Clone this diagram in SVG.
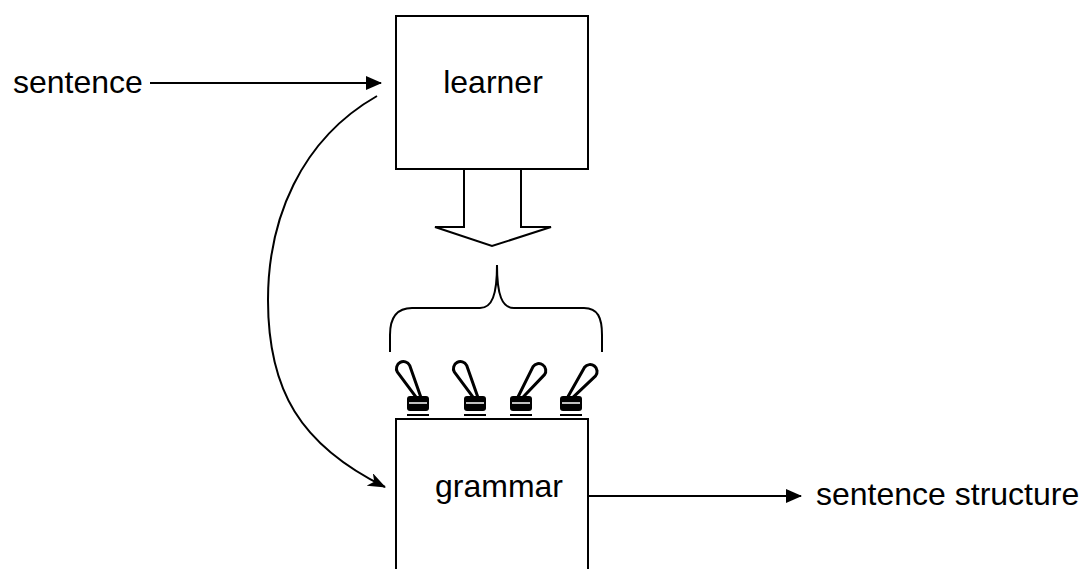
<svg xmlns="http://www.w3.org/2000/svg" width="1082" height="569" viewBox="0 0 1082 569">
  <style>
    .box { fill: #fff; stroke: #000; stroke-width: 2; }
    .lbl { font-family: "Liberation Sans", Arial, sans-serif; font-size: 32px; fill: #000; }
    .wire { fill: none; stroke: #000; stroke-width: 2; }
    .lever { fill: #fff; stroke: #000; stroke-width: 3; stroke-linejoin: round; }
  </style>
  <defs>
    <marker id="head" viewBox="0 0 16 14" refX="15" refY="7" markerWidth="16" markerHeight="14" markerUnits="userSpaceOnUse" orient="auto">
      <path d="M0,0 L16,7 L0,14 Z" fill="#000"/>
    </marker>
    <marker id="headCurve" viewBox="0 0 18 14" refX="17" refY="7" markerWidth="18" markerHeight="14" markerUnits="userSpaceOnUse" orient="auto">
      <path d="M0,0 L18,7 L0,14 L5,7 Z" fill="#000"/>
    </marker>
    <!-- toggle switch: lever pointing up from (0,0), base below -->
    <g id="switchBase">
      <rect x="-11" y="0" width="22" height="15" rx="3" fill="#000"/>
      <line x1="-9" y1="7" x2="9" y2="7" stroke="#fff" stroke-width="1.5"/>
      <line x1="-11" y1="19" x2="11" y2="19" stroke="#000" stroke-width="2"/>
    </g>
    <path id="lever" class="lever" d="M-2,2 L-7,-31 A7,7 0 1 1 7,-31 L2,2 Z"/>
  </defs>

  <g id="connectors">
    <line class="wire" x1="150" y1="83" x2="381" y2="83" marker-end="url(#head)"/>
    <path class="wire" d="M377,96 C300,140 268,220 268,300 C268,390 300,445 385,487" marker-end="url(#headCurve)"/>
    <line class="wire" x1="588" y1="496" x2="801" y2="496" marker-end="url(#head)"/>
  </g>

  <g id="input-label">
    <text class="lbl" x="13" y="93">sentence</text>
  </g>

  <g id="learner">
    <rect class="box" x="396" y="16" width="192" height="153"/>
    <text class="lbl" x="493" y="93" text-anchor="middle">learner</text>
  </g>

  <g id="update-arrow">
    <polyline class="wire" points="464,169 464,227 435,227 492,246 551,227 521,227 521,169"/>
  </g>

  <g id="brace">
    <path class="wire" d="M390,352 L390,335 C390,318 396,308 412,308 L480,308 C492,308 497,295 497,265 C497,295 502,308 514,308 L584,308 C598,308 602,318 602,335 L602,352"/>
  </g>

  <g id="switches">
    <g transform="translate(418,396)">
      <use href="#lever" transform="rotate(-28)"/>
      <use href="#switchBase"/>
    </g>
    <g transform="translate(475,396)">
      <use href="#lever" transform="rotate(-28)"/>
      <use href="#switchBase"/>
    </g>
    <g transform="translate(521,396)">
      <use href="#lever" transform="rotate(35)"/>
      <use href="#switchBase"/>
    </g>
    <g transform="translate(571,396)">
      <use href="#lever" transform="rotate(38)"/>
      <use href="#switchBase"/>
    </g>
  </g>

  <g id="grammar">
    <rect class="box" x="396" y="419" width="192" height="170"/>
    <text class="lbl" x="499" y="497" text-anchor="middle">grammar</text>
  </g>

  <g id="output-label">
    <text class="lbl" x="816" y="505">sentence structure</text>
  </g>
</svg>
